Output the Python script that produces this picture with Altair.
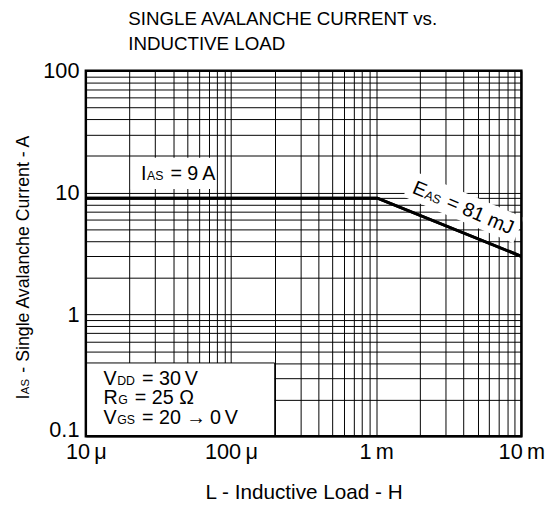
import altair as alt
import pandas as pd

# ---------------- data ----------------
L_H = [1e-5, 1.02e-3, 1e-2]          # inductive load, H
I_A = [9.0, 9.0, 3.0]                # single avalanche current, A

x_decades = [1e-5, 1e-4, 1e-3, 1e-2]
x_labels = ["10\u2009μ", "100\u2009μ", "1\u2009m", "10\u2009m"]
y_decades = [0.1, 1, 10, 100]
y_labels = ["0.1", "1", "10", "100"]

title_lines = ["SINGLE AVALANCHE CURRENT vs.", "INDUCTIVE LOAD"]
x_title = "L - Inductive Load - H"
y_title_parts = [("I", "b"), ("AS", "s"), (" - Single Avalanche Current - A", "b")]
ias_parts = [("I", "b"), ("AS", "s"), (" = 9\u2009A", "b")]
eas_parts = [("E", "b"), ("AS", "s"), (" = 81 mJ", "b")]
cond_parts = [
    [("V", "b"), ("DD", "s"), (" = 30\u2009V", "b")],
    [("R", "b"), ("G", "s"), (" = 25 Ω", "b")],
    [("V", "b"), ("GS", "s"), (" = 20 →\u20090\u2009V", "b")],
]

# ---------------- styling ----------------
FONT = "Liberation Sans, Arial, Helvetica, sans-serif"
W, H = 442, 371

AW = {' ': 278, '\u2009': 200, '=': 584, '-': 333, '.': 278, 'A': 667, 'C': 722,
      'D': 722, 'E': 667, 'G': 778, 'I': 278, 'J': 500, 'R': 722, 'S': 667, 'V': 667,
      'a': 556, 'c': 500, 'e': 556, 'g': 556, 'h': 556, 'i': 222, 'l': 222, 'm': 833,
      'n': 556, 'r': 333, 't': 278, 'u': 556, 'v': 500, 'Ω': 768, '→': 1000}


def tw(s, size):
    return sum(AW.get(c, 556) for c in s) / 1000.0 * size


one = pd.DataFrame({"k": [0]})


def pieces(parts, x, y, big, small, angle=0, center=False, dy=0.0, pixel=False):
    items = []
    for t, k in parts:
        s = big if k == "b" else small
        lead = len(t) - len(t.lstrip(" "))
        gap = lead * tw(" ", s) + (0.5 if k == "s" else 0.0)
        body = t.lstrip(" ")
        items.append((body, s, gap, tw(body, s) + (1.5 if k == "s" else 0.0)))
    total = sum(g + w for _, _, g, w in items)
    cum = -total / 2 if center else 0.0
    out = []
    for body, s, gap, w in items:
        cum += gap
        kw = dict(text=body, align="left", baseline="alphabetic", font=FONT, fontSize=s,
                  color="black", dx=round(cum, 2), dy=dy)
        if angle:
            kw["angle"] = angle
        enc = dict(x=alt.value(x), y=alt.value(y)) if pixel else dict(x=alt.datum(x), y=alt.datum(y))
        out.append(alt.Chart(one).mark_text(**kw).encode(**enc))
        cum += w
    return out, total


x_grid = [m * 10.0 ** e for e in range(-5, -2) for m in range(1, 10)] + [1e-2]
y_grid = [m * 10.0 ** e for e in range(-1, 2) for m in range(1, 10)] + [100.0]


def label_expr(vals, labs):
    s = ""
    for v, l in zip(vals, labs):
        s += f"abs(datum.value / {v} - 1) < 1e-6 ? '{l}' : "
    return s + "''"


df = pd.DataFrame({"L": L_H, "I": I_A})

xscale = alt.Scale(type="log", domain=[1e-5, 1e-2], nice=False)
yscale = alt.Scale(type="log", domain=[0.1, 100], nice=False)

TICK = 22
line = alt.Chart(df).mark_line(color="black", strokeWidth=3).encode(
    x=alt.X("L:Q", scale=xscale, axis=alt.Axis(
        values=x_grid, labelExpr=label_expr(x_decades, x_labels), title=x_title,
        grid=True, gridColor="black", ticks=False, tickSize=0, domain=False,
        labelOverlap=False, labelFlush=False, labelBound=False,
        labelPadding=23, labelBaseline="alphabetic", labelFontSize=TICK,
        titleFontSize=21, titleFontWeight="normal", titleY=63,
        titleBaseline="alphabetic")),
    y=alt.Y("I:Q", scale=yscale, axis=alt.Axis(
        values=y_grid, labelExpr=label_expr(y_decades, y_labels), title=None,
        grid=True, gridColor="black", ticks=False, tickSize=0, domain=False,
        labelOverlap=False, labelFlush=False, labelBound=False,
        labelPadding=7, labelFontSize=TICK,
        labelBaseline={"condition": {"test": "datum.value < 0.15", "value": "alphabetic"},
                       "value": "middle"})),
)

# white backgrounds behind the annotations
box_ias = alt.Chart(one).mark_rect(color="white").encode(
    x=alt.datum(2.04e-5), x2=alt.datum(7.9e-5), y=alt.datum(10.7), y2=alt.datum(19.3))
box_cond = alt.Chart(one).mark_rect(color="white", stroke="black", strokeWidth=1).encode(
    x=alt.datum(1e-5), x2=alt.datum(2e-4), y=alt.datum(0.1), y2=alt.datum(0.4))

ANN = 20
SUB = 12.5
EAS_X, EAS_Y, EAS_ANG = 4.0e-3, 7.6, 23
eas_layers, eas_total = pieces(eas_parts, EAS_X, EAS_Y, ANN, SUB, angle=EAS_ANG,
                               center=True, dy=0.716 * ANN / 2)
hw = (eas_total + 12) / 2.0
r = 14.0 / hw
shape = f"M-1,-{r:.4f}L1,-{r:.4f}L1,{r:.4f}L-1,{r:.4f}Z"
box_eas = alt.Chart(one).mark_point(shape=shape, filled=True, color="white", opacity=1,
                                    strokeWidth=0, size=(2 * hw) ** 2, angle=EAS_ANG).encode(
    x=alt.datum(EAS_X), y=alt.datum(EAS_Y))

ias_layers, _ = pieces(ias_parts, 2.4e-5, 12.8, ANN, SUB)
cond_layers = []
for parts, yy in zip(cond_parts, [0.265, 0.1825, 0.1257]):
    lay, _ = pieces(parts, 1.325e-5, yy, ANN, SUB)
    cond_layers += lay

ytitle_layers, _ = pieces(y_title_parts, -58, H / 2 + 13, 18, 11.5, angle=270,
                          center=True, pixel=True)

title_layers = [
    alt.Chart(one).mark_text(text=t, align="left", baseline="alphabetic", font=FONT,
                             fontSize=19, color="black").encode(
        x=alt.value(43), y=alt.value(yy))
    for t, yy in zip(title_lines, [-46, -21])
]

frame = alt.Chart(one).mark_rect(filled=False, color="black", strokeWidth=2.5).encode(
    x=alt.value(0), x2=alt.value(W), y=alt.value(0), y2=alt.value(H))

chart = alt.layer(
    line, box_ias, box_cond, box_eas, line,
    *eas_layers, *ias_layers, *cond_layers, *ytitle_layers, *title_layers, frame
).properties(
    width=W, height=H,
    autosize=alt.AutoSizeParams(type="none"),
    padding={"left": 79, "top": 60, "right": 24, "bottom": 67},
).configure_view(strokeWidth=0).configure_axis(
    gridColor="black", gridWidth=1.1, gridOpacity=1, labelFont=FONT, titleFont=FONT,
    labelColor="black", titleColor="black",
).configure(background="white")

chart.save("out.html", embed_options={"renderer": "svg", "actions": False})
